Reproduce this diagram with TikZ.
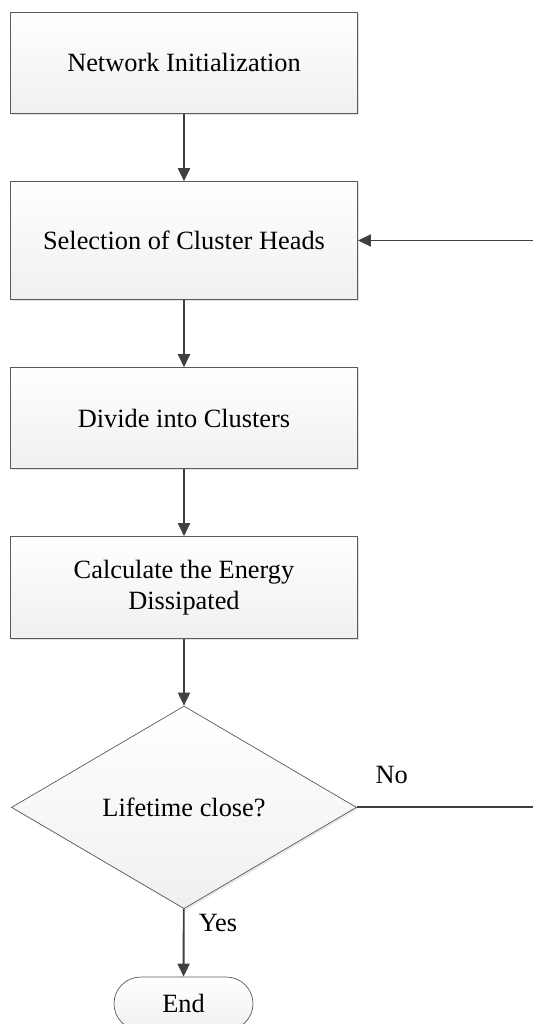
\documentclass[tikz,border=0pt]{standalone}
\usepackage{fontspec}
\setmainfont{Liberation Serif}
\usetikzlibrary{arrows.meta,shapes.geometric,shapes.misc,shadows}
\definecolor{edgegray}{HTML}{5A5A5A}
\definecolor{linegray}{HTML}{404040}

\begin{document}
\begin{tikzpicture}[x=1cm,y=1cm,>={Triangle[length=3.9mm,width=3.6mm]},
  font=\fontsize{22.5}{27}\selectfont,
  procbox/.style={rectangle,draw=edgegray,line width=0.8pt,top color=white,bottom color=gray!12,
    drop shadow={fill=gray!45,shadow xshift=1.5pt,shadow yshift=-1.5pt},
    minimum width=10.41cm,align=center,inner sep=0pt},
  decision/.style={diamond,draw=edgegray,line width=0.6pt,top color=white,bottom color=gray!12,
    drop shadow={fill=gray!35,shadow xshift=1.5pt,shadow yshift=-1.5pt},
    minimum width=10.35cm,minimum height=6.08cm,inner sep=0pt},
  terminal/.style={rounded rectangle,draw=edgegray,line width=0.6pt,top color=white,bottom color=gray!12,
    minimum width=4.17cm,minimum height=1.6cm,inner sep=0pt},
  flow/.style={->,draw=linegray,line width=1.6pt}]
  \useasboundingbox (0,0) rectangle (15.99,-30.72);
  \node[procbox,minimum height=3.04cm] (init) at (5.52,-1.88) {Network Initialization};
  \node[procbox,minimum height=3.53cm] (select) at (5.52,-7.215) {Selection of Cluster Heads};
  \node[procbox,minimum height=3.03cm] (divide) at (5.52,-12.546) {Divide into Clusters};
  \node[procbox,minimum height=3.05cm] (energy) at (5.52,-17.625) {Calculate the Energy\\Dissipated};
  \node[decision] (life) at (5.52,-24.22) {Lifetime close?};
  \node[terminal] (stop) at (5.505,-30.11) {End};
  \coordinate (noend) at (15.99,-24.22);
  \coordinate (back) at (15.99,-7.215);
  \draw[flow] (init) -- (select);
  \draw[flow] (select) -- (divide);
  \draw[flow] (divide) -- (energy);
  \draw[flow] (energy) -- (life);
  \draw[flow] (life) -- (stop);
  \draw[draw=linegray,line width=1.6pt] (life.east) -- (noend);
  \draw[flow] (back) -- (select.east);
  \node[anchor=base] (no) at (11.75,-23.5) {No};
  \node[anchor=base] (yes) at (6.54,-27.95) {Yes};
\end{tikzpicture}
\end{document}
